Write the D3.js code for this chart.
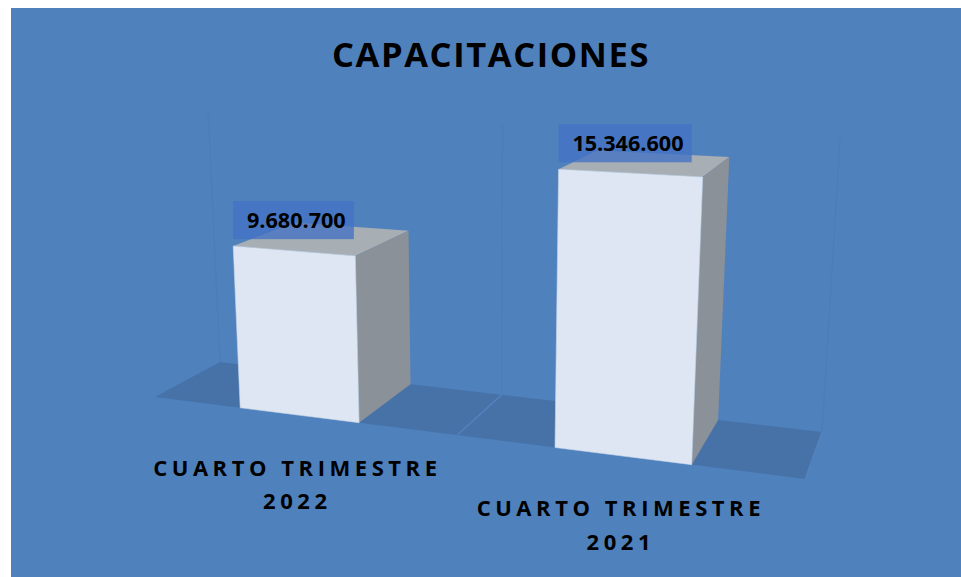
<!DOCTYPE html>
<html><head><meta charset="utf-8">
<script src="https://cdn.jsdelivr.net/npm/d3@7/dist/d3.min.js"></script>
<style>html,body{margin:0;padding:0;background:#fff}svg{display:block}text{font-family:"Open Sans","Noto Sans",sans-serif;font-weight:700;fill:#000}</style>
</head><body><svg id="c" width="961" height="577"></svg>
<script>
const title = "CAPACITACIONES";
const categories = ["CUARTO TRIMESTRE 2022", "CUARTO TRIMESTRE 2021"];
const values = [9680700, 15346600];
const axisMax = 16700000;

const W = 961, H = 577;
const svg = d3.select("#c");
svg.append("rect").attr("x", 11).attr("y", 8).attr("width", W - 11).attr("height", H - 8).attr("fill", "#4f81bd");

// Floor: projective map from (s across, t deep) in the unit square to the screen
const fl = {p00: [155, 397], p10: [805, 479], p11: [822, 432], p01: [220, 362]};
const dx1 = fl.p10[0] - fl.p11[0], dx2 = fl.p01[0] - fl.p11[0], sx = fl.p00[0] - fl.p10[0] + fl.p11[0] - fl.p01[0];
const dy1 = fl.p10[1] - fl.p11[1], dy2 = fl.p01[1] - fl.p11[1], sy = fl.p00[1] - fl.p10[1] + fl.p11[1] - fl.p01[1];
const den = dx1 * dy2 - dx2 * dy1;
const g = (sx * dy2 - dx2 * sy) / den, h = (dx1 * sy - sx * dy1) / den;
const a = fl.p10[0] - fl.p00[0] + g * fl.p10[0], b = fl.p01[0] - fl.p00[0] + h * fl.p01[0], c = fl.p00[0];
const d = fl.p10[1] - fl.p00[1] + g * fl.p10[1], e = fl.p01[1] - fl.p00[1] + h * fl.p01[1], f = fl.p00[1];
const floor = (s, t) => {
  const w = g * s + h * t + 1;
  return [(a * s + b * t + c) / w, (d * s + e * t + f) / w];
};

// Uprights lean away from a vanishing point far below the chart
const vp = [483, 5937];
const pxPerUnit = d3.scaleLinear().domain([383, 465]).range([15.8, 18.76]);
const project = (s, t, v) => {
  const [x, y] = floor(s, t);
  const up = pxPerUnit(y) * v / 1e6;
  return [x - (vp[0] - x) / (vp[1] - y) * up, y - up];
};

const band = d3.scaleBand().domain(categories).range([-0.0035, 0.9965]).paddingInner(0.606).paddingOuter(0.303);
const poly = pts => pts.map(p => p.map(n => n.toFixed(1)).join(",")).join(" ");
const fmt = d3.formatLocale({decimal: ",", thousands: ".", grouping: [3], currency: ["", ""]}).format(",d");

// floor and walls
svg.append("polygon").attr("points", poly([floor(0, 0), floor(1, 0), floor(1, 1), floor(0, 1)])).attr("fill", "#4672a8");
[0, 0.5, 1].forEach(s => {
  const p0 = project(s, 1, 0), p1 = project(s, 1, axisMax);
  svg.append("line").attr("x1", p0[0]).attr("y1", p0[1]).attr("x2", p1[0]).attr("y2", p1[1])
    .attr("stroke", "#4b7db9").attr("stroke-width", 1.2);
});
const dv0 = floor(0.5, 0), dv1 = floor(0.5, 1);
svg.append("line").attr("x1", dv0[0]).attr("y1", dv0[1]).attr("x2", dv1[0]).attr("y2", dv1[1]).attr("stroke", "#5586c2").attr("stroke-width", 1.2);
const rg0 = floor(1, 0), rg1 = floor(1, 1);
svg.append("line").attr("x1", rg0[0]).attr("y1", rg0[1]).attr("x2", rg1[0]).attr("y2", rg1[1]).attr("stroke", "#5586c2").attr("stroke-width", 1);

// bars
const bars = svg.selectAll("g.bar").data(categories.map((cat, i) => ({cat, v: values[i]}))).join("g").attr("class", "bar");
bars.each(function (r) {
  const s0 = band(r.cat), s1 = s0 + band.bandwidth();
  const sel = d3.select(this);
  const fl0 = project(s0, 0, 0), fr0 = project(s1, 0, 0), br0 = project(s1, 1, 0);
  const fl1 = project(s0, 0, r.v), fr1 = project(s1, 0, r.v), br1 = project(s1, 1, r.v), bl1 = project(s0, 1, r.v);
  sel.append("polygon").attr("points", poly([fl1, fr1, br1, bl1])).attr("fill", "#a7aeb4");
  sel.append("polygon").attr("points", poly([fr0, br0, br1, fr1])).attr("fill", "#8a9199");
  sel.append("polygon").attr("points", poly([fl0, fr0, fr1, fl1])).attr("fill", "#dde6f2").attr("stroke", "#c9d6e8").attr("stroke-width", 0.6);
});

// value labels
bars.each(function (r) {
  const s0 = band(r.cat);
  const tl = project(s0, 0, r.v);
  const sel = d3.select(this);
  const box = sel.append("rect").attr("fill", "#4472c4").attr("fill-opacity", 0.78);
  const t = sel.append("text").attr("font-size", 21.6).text(fmt(r.v));
  const w = t.node().getComputedTextLength();
  const bw = w + 22, bh = 38;
  box.attr("x", tl[0]).attr("y", tl[1] - 7 - bh).attr("width", bw).attr("height", bh);
  t.attr("x", tl[0] + bw / 2 + 2.8).attr("y", tl[1] - 7 - bh + 27).attr("text-anchor", "middle");
});

// category labels
bars.each(function (r) {
  const sm = band(r.cat) + band.bandwidth() / 2;
  const [x, y] = floor(sm, 0);
  const cut = r.cat.lastIndexOf(" ");
  const lines = [r.cat.slice(0, cut), r.cat.slice(cut + 1)];
  const t = d3.select(this).append("text").attr("font-size", 22).attr("letter-spacing", 4.55).attr("text-anchor", "middle");
  lines.forEach((ln, i) => t.append("tspan").attr("x", x - 1.5).attr("y", y + 60.5 + i * 33.5).text(ln));
});

svg.append("text").attr("x", 491).attr("y", 67).attr("text-anchor", "middle").attr("font-size", 34.5).attr("letter-spacing", 1.6).text(title);
</script></body></html>
